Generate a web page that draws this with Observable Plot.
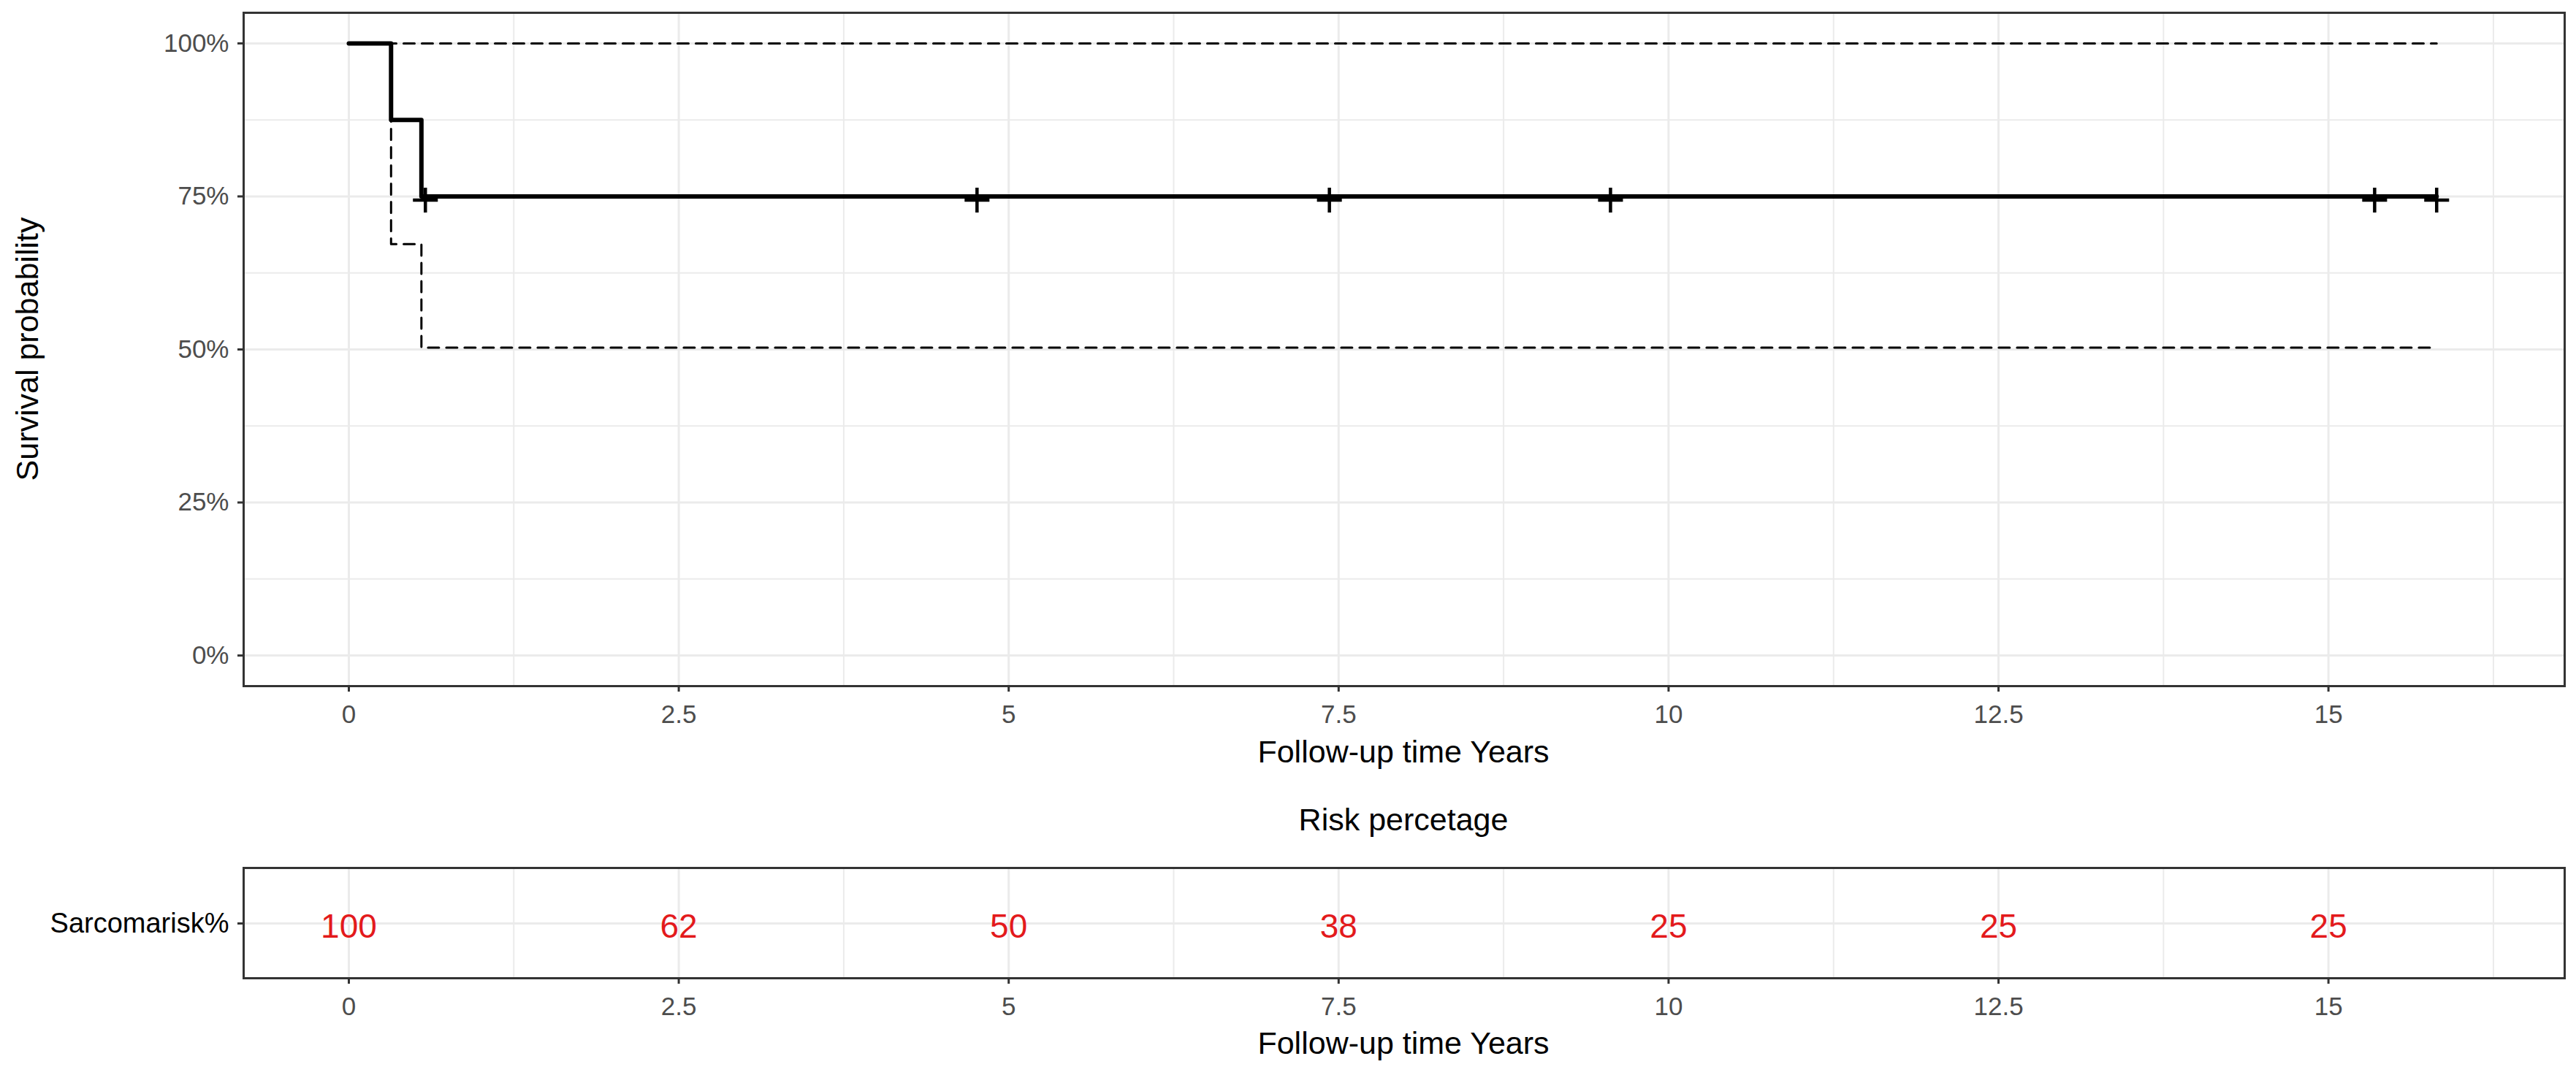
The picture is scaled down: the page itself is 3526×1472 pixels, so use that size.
<!DOCTYPE html>
<html>
<head>
<meta charset="utf-8">
<script src="https://cdn.jsdelivr.net/npm/d3@7"></script>
<script src="https://cdn.jsdelivr.net/npm/@observablehq/plot@0.6"></script>
<style>
  html, body { margin: 0; padding: 0; background: #fff; }
  #wrap { position: relative; width: 3526px; height: 1472px; background: #fff;
          font-family: "Liberation Sans", Arial, sans-serif; overflow: hidden; }
  .abs { position: absolute; white-space: nowrap; line-height: 1; transform: translate(-50%, -50%); color: #000; }
  .svgbox { position: absolute; left: 0; }
</style>
</head>
<body>
<div id="wrap"></div>
<script>
// ---- data ----
const kmTime = [0, 0.32, 0.55, 15.82];
const kmSurv = [1, 0.875, 0.75, 0.75];
const upperTime = [0, 0.32, 0.55, 15.82];
const upperSurv = [1, 1, 1, 1];
const lowerTime = [0, 0.32, 0.55, 15.82];
const lowerSurv = [1, 0.672, 0.503, 0.503];
const censorTime = [0.58, 4.76, 7.43, 9.56, 15.35, 15.82];
const censorSurv = [0.75, 0.75, 0.75, 0.75, 0.75, 0.75];
const xTicks = [0, 2.5, 5, 7.5, 10, 12.5, 15];
const xMinorTicks = [1.25, 3.75, 6.25, 8.75, 11.25, 13.75, 16.25];
const yTicks = [0, 0.25, 0.5, 0.75, 1];
const yMinorTicks = [0.125, 0.375, 0.625, 0.875];
const riskLabels = ["Sarcomarisk%"];
const riskTime = [0, 2.5, 5, 7.5, 10, 12.5, 15];
const riskPct = [100, 62, 50, 38, 25, 25, 25];

const xTitle = "Follow-up time Years";
const yTitle = "Survival probability";
const riskTitle = "Risk percetage";

// ---- styles ----
const FONT = "Liberation Sans, Arial, sans-serif";
const GRID = "#EBEBEB";
const BORDER = "#333333";
const TICKTEXT = "#4D4D4D";
const RED = "#E31A1C";
const xDomain = [-0.797, 16.79];

const km = kmTime.map((t, i) => ({t, s: kmSurv[i]}));
const upper = upperTime.map((t, i) => ({t, s: upperSurv[i]}));
const lower = lowerTime.map((t, i) => ({t, s: lowerSurv[i]}));
const censor = censorTime.map((t, i) => ({t, s: censorSurv[i]}));
const risk = riskTime.map((t, i) => ({t, v: riskPct[i], g: riskLabels[0]}));

const topPlot = Plot.plot({
  width: 3526, height: 1060,
  marginLeft: 333, marginRight: 16, marginTop: 17, marginBottom: 121,
  style: {fontFamily: FONT, background: "transparent", overflow: "visible"},
  x: {domain: xDomain},
  y: {domain: [-0.05, 1.05]},
  marks: [
    Plot.ruleX(xMinorTicks, {stroke: GRID, strokeWidth: 2}),
    Plot.ruleY(yMinorTicks, {stroke: GRID, strokeWidth: 2}),
    Plot.ruleX(xTicks, {stroke: GRID, strokeWidth: 3}),
    Plot.ruleY(yTicks, {stroke: GRID, strokeWidth: 3}),
    Plot.line(upper, {x: "t", y: "s", curve: "step-after", stroke: "black", strokeWidth: 3, strokeDasharray: "15,10"}),
    Plot.line(lower, {x: "t", y: "s", curve: "step-after", stroke: "black", strokeWidth: 3, strokeDasharray: "15,10"}),
    Plot.line(km, {x: "t", y: "s", curve: "step-after", stroke: "black", strokeWidth: 6}),
    Plot.dot(censor, {x: "t", y: "s", symbol: "plus", r: 11, stroke: "black", strokeWidth: 4.5, dy: 5}),
    Plot.frame({stroke: BORDER, strokeWidth: 3}),
    Plot.axisX({ticks: xTicks, tickFormat: d => String(d), tickSize: 8, tickPadding: 18,
      fontSize: 35, stroke: BORDER, strokeWidth: 3, fill: TICKTEXT, label: null}),
    Plot.axisY({ticks: yTicks, tickFormat: d => Math.round(d * 100) + "%", tickSize: 8, tickPadding: 12,
      fontSize: 35, stroke: BORDER, strokeWidth: 3, fill: TICKTEXT, label: null})
  ]
});

const bottomPlot = Plot.plot({
  width: 3526, height: 322,
  marginLeft: 333, marginRight: 16, marginTop: 38, marginBottom: 133,
  style: {fontFamily: FONT, background: "transparent", overflow: "visible"},
  x: {domain: xDomain},
  y: {type: "point", domain: riskLabels},
  marks: [
    Plot.ruleX(xMinorTicks, {stroke: GRID, strokeWidth: 2}),
    Plot.ruleX(xTicks, {stroke: GRID, strokeWidth: 3}),
    Plot.ruleY(riskLabels, {y: d => d, stroke: GRID, strokeWidth: 3}),
    Plot.text(risk, {x: "t", y: "g", text: d => String(d.v), fill: RED, fontSize: 46, dy: 5}),
    Plot.frame({stroke: BORDER, strokeWidth: 3}),
    Plot.axisX({ticks: xTicks, tickFormat: d => String(d), tickSize: 8, tickPadding: 18,
      fontSize: 35, stroke: BORDER, strokeWidth: 3, fill: TICKTEXT, label: null}),
    Plot.axisY({tickSize: 8, tickPadding: 12, fontSize: 38, stroke: BORDER, strokeWidth: 3,
      fill: "black", label: null})
  ]
});

const wrap = document.getElementById("wrap");
const b1 = document.createElement("div");
b1.className = "svgbox"; b1.style.top = "0px";
b1.appendChild(topPlot);
const b2 = document.createElement("div");
b2.className = "svgbox"; b2.style.top = "1150px";
b2.appendChild(bottomPlot);
wrap.appendChild(b1);
wrap.appendChild(b2);

function addText(txt, x, y, size, rotate) {
  const d = document.createElement("div");
  d.className = "abs";
  d.textContent = txt;
  d.style.left = x + "px";
  d.style.top = y + "px";
  d.style.fontSize = size + "px";
  if (rotate) d.style.transform = "translate(-50%, -50%) rotate(-90deg)";
  wrap.appendChild(d);
}
addText(yTitle, 37, 478, 43, true);
addText(xTitle, 1921, 1029, 43, false);
addText(riskTitle, 1921, 1122, 43, false);
addText(xTitle, 1921, 1428, 43, false);
</script>
</body>
</html>
